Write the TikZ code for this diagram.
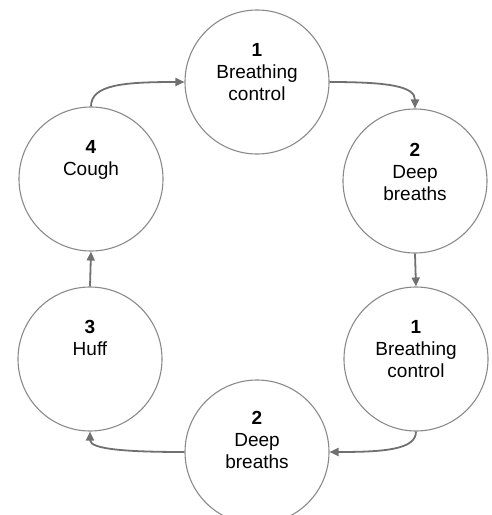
\documentclass[tikz,border=0pt]{standalone}
\usepackage{fontspec}
\setmainfont{Liberation Sans}
\usetikzlibrary{arrows.meta}
\definecolor{ringgray}{HTML}{8A8A8A}
\definecolor{arrowgray}{HTML}{707070}
\tikzset{
  stage/.style={circle, draw=ringgray, line width=1.1pt, minimum size=144pt, inner sep=0pt},
  stagetext/.style={anchor=north, inner sep=0pt, align=center, font=\fontsize{19}{22}\selectfont},
  flow/.style={draw=arrowgray, line width=1.8pt, -{Triangle[length=9pt,width=8pt]}}
}
\begin{document}
\begin{tikzpicture}[x=1pt,y=-1pt]
\clip (0,0) rectangle (491,515);
\useasboundingbox (0,0) rectangle (491,515);
\node[stage] (c1) at (257,82) {};
\node[stage] (c2) at (415,181) {};
\node[stage] (c3) at (416,359) {};
\node[stage] (c5) at (257,452) {};
\node[stage] (c6) at (90,359) {};
\node[stage] (c4) at (91,179) {};
\node[stagetext] (t1) at (257,43) {\textbf{1}\\Breathing\\control};
\node[stagetext] (t2) at (415,143) {\textbf{2}\\Deep\\breaths};
\node[stagetext] (t3) at (416,320) {\textbf{1}\\Breathing\\control};
\node[stagetext] (t5) at (257,411) {\textbf{2}\\Deep\\breaths};
\node[stagetext] (t6) at (90,320) {\textbf{3}\\Huff};
\node[stagetext] (t4) at (91,140) {\textbf{4}\\Cough};
\draw[flow] (c4.north) .. controls +(0,-22) and +(-60,0) .. (c1.west);
\draw[flow] (c1.east) .. controls +(60,0) and +(0,-22) .. (c2.north);
\draw[flow] (c2.south) -- (c3.north);
\draw[flow] (c3.south) .. controls +(0,18) and +(55,0) .. (c5.east);
\draw[flow] (c5.west) .. controls +(-55,0) and +(0,18) .. (c6.south);
\draw[flow] (c6.north) -- (c4.south);
\end{tikzpicture}
\end{document}
